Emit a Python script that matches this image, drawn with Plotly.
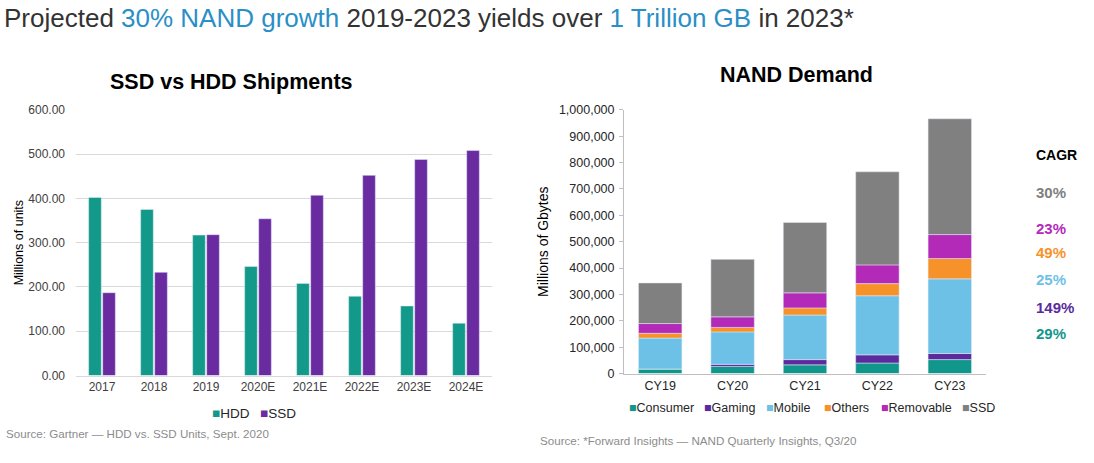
import plotly.graph_objects as go

# left chart: SSD vs HDD shipments (millions of units)
years = ["2017", "2018", "2019", "2020E", "2021E", "2022E", "2023E", "2024E"]
hdd_units = [402, 375, 317, 246, 208, 179, 157, 118]
ssd_units = [187, 233, 318, 354, 407, 452, 488, 508]

# right chart: NAND demand (millions of GB), stacked
cy = ["CY19", "CY20", "CY21", "CY22", "CY23"]
nand = {
    "Consumer": [17000, 27000, 33000, 40000, 53000],
    "Gaming": [600, 8000, 20000, 31000, 23000],
    "Mobile": [117000, 123000, 169000, 224000, 283000],
    "Others": [18000, 17000, 27000, 46000, 77000],
    "Removable": [37000, 40000, 57000, 71000, 91000],
    "SSD": [154000, 218000, 267000, 353000, 439000],
}
cagr_labels = ["30%", "23%", "49%", "25%", "149%", "29%"]

teal = "#12998a"
purple = "#6a2aa0"
colors = {
    "Consumer": "#10968a",
    "Gaming": "#5b2a9e",
    "Mobile": "#6ec1e6",
    "Others": "#f7922a",
    "Removable": "#b329b8",
    "SSD": "#808080",
}
cagr_colors = ["#808080", "#b329b8", "#f7922a", "#6ec1e6", "#5b2a9e", "#10968a"]

W, H = 1094, 463
font = "Arial, Liberation Sans, sans-serif"


def px(x):
    return x / W


def py(y):
    return 1 - y / H


fig = go.Figure()
fig.add_trace(go.Bar(x=years, y=hdd_units, name="HDD", marker_color=teal,
                     xaxis="x", yaxis="y", offsetgroup="hdd"))
fig.add_trace(go.Bar(x=years, y=ssd_units, name="SSD", marker_color=purple,
                     xaxis="x", yaxis="y", offsetgroup="ssd"))
for k, v in nand.items():
    fig.add_trace(go.Bar(x=cy, y=v, name=k, marker_color=colors[k], width=0.6,
                         xaxis="x2", yaxis="y2", offsetgroup="nand"))

anns = [
    dict(text="<b>SSD vs HDD Shipments</b>", x=px(232), y=py(77), font=dict(size=21.5, color="#000")),
    dict(text="<b>NAND Demand</b>", x=px(797), y=py(70), font=dict(size=21.5, color="#000")),
    dict(text="Source: Gartner — HDD vs. SSD Units, Sept. 2020", x=px(4), y=py(440),
         xanchor="left", font=dict(size=11.6, color="#8c8c8c")),
    dict(text="Source: *Forward Insights — NAND Quarterly Insights, Q3/20", x=px(538), y=py(447),
         xanchor="left", font=dict(size=11.6, color="#8c8c8c")),
    dict(text="<b>CAGR</b>", x=px(1034), y=py(153), xanchor="left", font=dict(size=14, color="#000")),
]
cagr_y = [191, 228, 253, 281, 310, 337]
for lab, c, yy in zip(cagr_labels, cagr_colors, cagr_y):
    anns.append(dict(text="<b>" + lab + "</b>", x=px(1034), y=py(yy), xanchor="left",
                     font=dict(size=15, color=c)))

# legends drawn as text rows so the spacing matches the original
left_leg_x = [210, 258]
for tr, lx in zip(fig.data[:2], left_leg_x):
    anns.append(dict(text="<span style='color:%s'>■</span>%s" % (tr.marker.color, tr.name),
                     x=px(lx), y=py(419), xanchor="left", font=dict(size=13.5, color="#262626")))
right_leg_x = [627, 702, 764, 822, 879, 960]
for k, lx in zip(nand, right_leg_x):
    anns.append(dict(text="<span style='color:%s'>■</span>%s" % (colors[k], k),
                     x=px(lx), y=py(413), xanchor="left", font=dict(size=12.5, color="#262626")))

for a in anns:
    a.update(xref="paper", yref="paper", showarrow=False, yanchor="middle",
             xanchor=a.get("xanchor", "center"))

title_html = ("Projected <span style='color:#2a8fc6'>30% NAND growth</span> 2019-2023 yields over "
              "<span style='color:#2a8fc6'>1 Trillion GB</span> in 2023*")

fig.update_layout(
    width=W, height=H,
    margin=dict(l=0, r=0, t=0, b=0),
    paper_bgcolor="white", plot_bgcolor="white",
    font=dict(family=font, color="#404040"),
    title=dict(text=title_html, x=px(4), xanchor="left", y=py(18), yanchor="middle",
               pad=dict(l=0, r=0, t=0, b=0), font=dict(size=26, color="#333333")),
    barmode="relative",
    bargap=0.46, bargroupgap=0.1,
    showlegend=False,
    annotations=anns,
    xaxis=dict(domain=[px(76), px(492)], anchor="y", showline=True, linecolor="#d9d9d9",
               tickfont=dict(size=12, color="#404040"), ticks=""),
    yaxis=dict(domain=[py(380), py(106)], anchor="x", range=[0, 600], dtick=100,
               tickformat=".2f", showgrid=True, gridcolor="#d9d9d9", zeroline=False,
               tickfont=dict(size=12, color="#404040"), ticklabelstandoff=10,
               title=dict(text="Millions of units", font=dict(size=12.5, color="#000"), standoff=1)),
    xaxis2=dict(domain=[px(624), px(986)], anchor="y2", showline=True, linecolor="#bfbfbf",
                tickfont=dict(size=12.5, color="#262626"), ticks=""),
    yaxis2=dict(domain=[py(378), py(106)], anchor="x2", range=[0, 1000000], dtick=100000,
                tickformat=",d", showgrid=False, zeroline=False, showline=True, linecolor="#bfbfbf",
                ticks="outside", ticklen=4, tickcolor="#bfbfbf",
                tickfont=dict(size=12.5, color="#262626"), ticklabelstandoff=2,
                title=dict(text="Millions of Gbytes", font=dict(size=14, color="#000"), standoff=6)),
)

page_fix = (
    "document.body.style.margin='0';"
    "document.body.style.overflow='hidden';"
    "document.documentElement.style.overflow='hidden';"
    "var gd=document.getElementById('{plot_id}');"
    "gd.parentElement.style.height='463px';gd.parentElement.style.overflow='hidden';"
)
fig.write_html("out.html", config={"displayModeBar": False}, post_script=page_fix)
